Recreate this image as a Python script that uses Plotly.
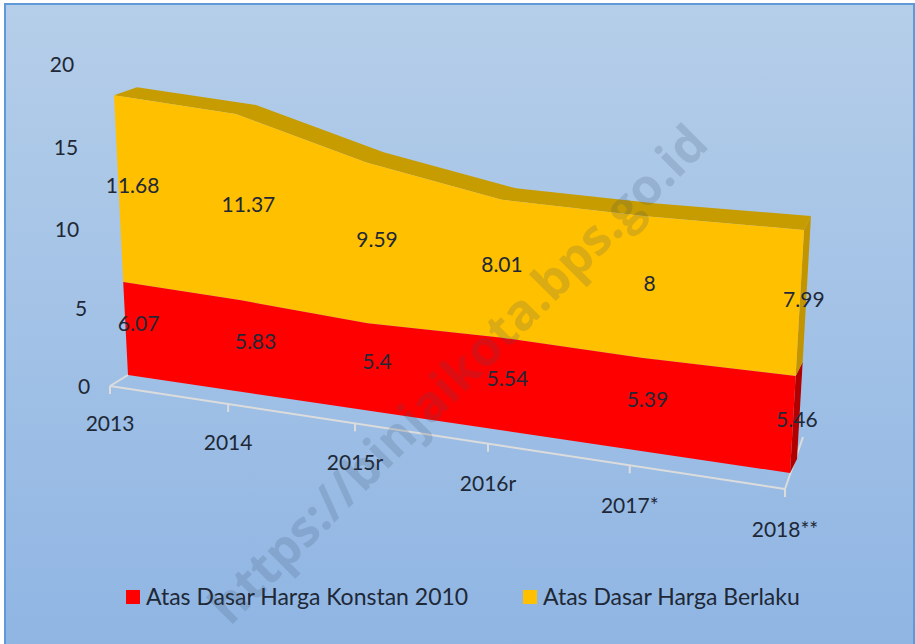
import plotly.graph_objects as go

# ---- data ----
CATEGORIES = ["2013", "2014", "2015r", "2016r", "2017*", "2018**"]
KONSTAN = [6.07, 5.83, 5.4, 5.54, 5.39, 5.46]
BERLAKU = [11.68, 11.37, 9.59, 8.01, 8, 7.99]
Y_TICKS = [0, 5, 10, 15, 20]
NAME_K = "Atas Dasar Harga Konstan 2010"
NAME_B = "Atas Dasar Harga Berlaku"
WATERMARK = "https://binjaikota.bps.go.id"

# ---- 3-D look: projection of (category, value, depth) on the picture ----
F = [0, 0.175, 0.363, 0.56, 0.77, 1]      # perspective spacing of the categories


def front(i, v):
    f = F[i]
    return (128 + 662 * f + (-0.79 + 1.83 * f) * v,
            375 + 98 * f - (15.09 + 2.47 * f + 0.038 * v) * v)


def back(i, v):
    f = F[i]
    x, y = front(i, v)
    return x + 23 - 16 * f, y - 8 - 6 * f


def axis_pt(i):
    f = F[i]
    x, y = front(i, 0)
    return x - 18 + 13 * f, y + 11 + 5 * f


def floor_pt(i):
    f = F[i]
    x, y = axis_pt(i)
    return x + 18, y - 11 - 41 * f


FONT = "Lato"
TXT = "#1e2836"
n = len(CATEGORIES)
idx = list(range(n))
TOTAL = [a + b for a, b in zip(KONSTAN, BERLAKU)]
fig = go.Figure()


def poly(pts, color, **kw):
    fig.add_trace(go.Scatter(x=[p[0] for p in pts], y=[p[1] for p in pts], mode="lines",
                             fill="toself", fillcolor=color, line=dict(width=0),
                             hoverinfo="skip", showlegend=False, **kw))


# background gradient + frame
fig.add_trace(go.Scatter(x=[5, 914, 914, 5, 5], y=[4, 4, 650, 650, 4], mode="lines", fill="toself",
                         line=dict(width=0), showlegend=False, hoverinfo="skip",
                         fillgradient=dict(type="vertical",
                                           colorscale=[[0, "#8fb5e3"], [1, "#b5cee9"]])))
fig.add_shape(type="rect", x0=5, y0=4, x1=914, y1=660, line=dict(color="#5f9ad6", width=2),
              fillcolor="rgba(0,0,0,0)", layer="above")

# floor / axis
AX = "#dcdcdc"
axis = [axis_pt(i) for i in idx]
fig.add_trace(go.Scatter(x=[p[0] for p in axis], y=[p[1] for p in axis], mode="lines",
                         line=dict(color=AX, width=2), showlegend=False, hoverinfo="skip"))
for i in idx:
    ax, ay = axis[i]
    fig.add_trace(go.Scatter(x=[ax, ax], y=[ay, ay + 8], mode="lines",
                             line=dict(color=AX, width=2), showlegend=False, hoverinfo="skip"))
for i in (0, n - 1):
    ax, ay = axis[i]
    fx, fy = floor_pt(i)
    fig.add_trace(go.Scatter(x=[ax, fx], y=[ay, fy], mode="lines",
                             line=dict(color=AX, width=2), showlegend=False, hoverinfo="skip"))

# side faces
poly([front(n - 1, KONSTAN[-1]), back(n - 1, KONSTAN[-1]), back(n - 1, 0), front(n - 1, 0)], "#b00000")
poly([front(n - 1, TOTAL[-1]), back(n - 1, TOTAL[-1]), back(n - 1, KONSTAN[-1]), front(n - 1, KONSTAN[-1])],
     "#c29500")
# top band of the upper series
poly([front(i, TOTAL[i]) for i in idx] + [back(i, TOTAL[i]) for i in reversed(idx)], "#c69c00")
# front faces
poly([front(i, TOTAL[i]) for i in idx] + [front(i, KONSTAN[i]) for i in reversed(idx)], "#FFC000")
poly([front(i, KONSTAN[i]) for i in idx] + [front(i, 0) for i in reversed(idx)], "#FF0000")

# data labels
DX_B = [14, 10, 10, 1, 6, 4]
DX_K = [13, 13, 9, 8, 8, 4]
label_font = dict(family=FONT, size=21, color=TXT)


def text_trace(xs, ys, texts):
    fig.add_trace(go.Scatter(x=xs, y=ys, mode="text", text=texts, textposition="middle center",
                             textfont=label_font, showlegend=False, hoverinfo="skip", cliponaxis=False))


mid_b = [front(i, KONSTAN[i] + BERLAKU[i] / 2) for i in idx]
mid_k = [front(i, KONSTAN[i] / 2) for i in idx]
text_trace([p[0] + d for p, d in zip(mid_b, DX_B)], [p[1] - 2 for p in mid_b], [str(v) for v in BERLAKU])
text_trace([p[0] + d for p, d in zip(mid_k, DX_K)], [p[1] - 3 for p in mid_k], [str(v) for v in KONSTAN])

# category labels
text_trace([p[0] for p in axis], [p[1] + 40 + 3 * F[i] for i, p in enumerate(axis)], CATEGORIES)
# value-axis labels
Y_LABEL_X = [84, 81, 67, 66, 62]
text_trace(Y_LABEL_X, [389 - v * (15.4 + 0.035 * v) for v in Y_TICKS], [str(v) for v in Y_TICKS])

# legend
for name, col, lx in ((NAME_K, "#FF0000", 133), (NAME_B, "#FFC000", 530)):
    fig.add_trace(go.Scatter(x=[lx], y=[597], mode="markers", name=name, showlegend=False, hoverinfo="skip",
                             marker=dict(symbol="square", size=14, color=col)))
    fig.add_trace(go.Scatter(x=[lx + 13], y=[599], mode="text", name=name, text=[name],
                             textposition="middle right", showlegend=False, hoverinfo="skip",
                             textfont=dict(family=FONT, size=23, color=TXT), cliponaxis=False))

# watermark
fig.add_annotation(x=457, y=373, xref="x", yref="y", text=WATERMARK, showarrow=False, textangle=-45,
                   font=dict(family="Open Sans", size=50, color="rgba(55,75,105,0.18)", weight="bold"))

fig.update_layout(
    width=915, height=644, margin=dict(l=0, r=0, t=0, b=0), paper_bgcolor="white", plot_bgcolor="white",
    xaxis=dict(range=[0, 915], visible=False, fixedrange=True),
    yaxis=dict(range=[644, 0], visible=False, fixedrange=True),
    showlegend=False, hovermode=False,
)
fig.write_html("out.html", config=dict(displayModeBar=False),
               post_script="document.body.style.margin='0';document.body.style.overflow='hidden';")
